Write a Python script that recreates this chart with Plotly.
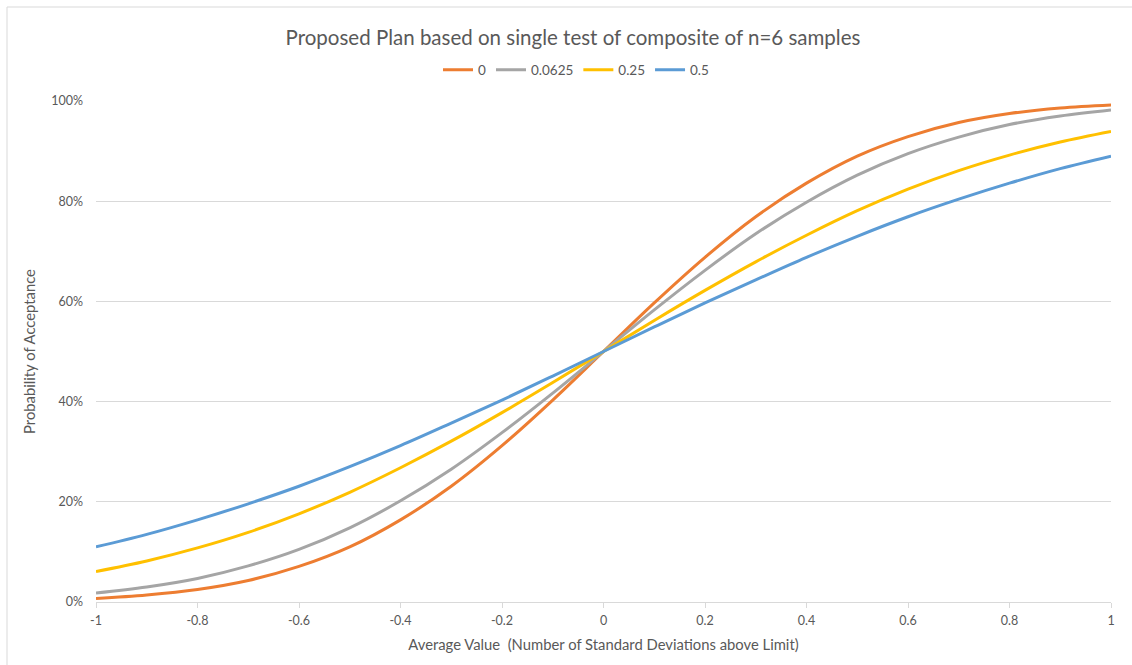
import plotly.graph_objects as go

x_vals = [-1.0, -0.9, -0.8, -0.7, -0.6, -0.5, -0.4, -0.3, -0.2, -0.1, 0.0,
          0.1, 0.2, 0.3, 0.4, 0.5, 0.6, 0.7, 0.8, 0.9, 1.0]

series_names = ["0", "0.0625", "0.25", "0.5"]
p_0 = [0.007, 0.014, 0.025, 0.043, 0.071, 0.110, 0.164, 0.231, 0.312, 0.403, 0.500,
       0.597, 0.688, 0.769, 0.836, 0.890, 0.929, 0.957, 0.975, 0.986, 0.992]
p_00625 = [0.018, 0.030, 0.047, 0.072, 0.105, 0.148, 0.202, 0.265, 0.338, 0.417, 0.500,
           0.583, 0.662, 0.735, 0.798, 0.852, 0.895, 0.928, 0.953, 0.970, 0.982]
p_025 = [0.061, 0.082, 0.108, 0.139, 0.176, 0.219, 0.268, 0.321, 0.378, 0.438, 0.500,
         0.562, 0.622, 0.679, 0.732, 0.781, 0.824, 0.861, 0.892, 0.918, 0.939]
p_05 = [0.110, 0.135, 0.164, 0.196, 0.231, 0.270, 0.312, 0.357, 0.403, 0.451, 0.500,
        0.549, 0.597, 0.643, 0.688, 0.730, 0.769, 0.804, 0.836, 0.865, 0.890]

colors = ["#ED7D31", "#A5A5A5", "#FFC000", "#5B9BD5"]
all_series = [p_0, p_00625, p_025, p_05]

x_ticks = [-1, -0.8, -0.6, -0.4, -0.2, 0, 0.2, 0.4, 0.6, 0.8, 1]
x_tick_text = ["-1", "-0.8", "-0.6", "-0.4", "-0.2", "0", "0.2", "0.4", "0.6", "0.8", "1"]
y_ticks = [0, 0.2, 0.4, 0.6, 0.8, 1.0]
y_tick_text = ["0%", "20%", "40%", "60%", "80%", "100%"]

FONT = "Lato, Carlito, Calibri, sans-serif"
TXT = "#595959"

fig = go.Figure()
for name, vals, c in zip(series_names, all_series, colors):
    fig.add_trace(go.Scatter(x=x_vals, y=vals, mode="lines", name=name,
                             line=dict(color=c, width=3, shape="spline")))

W, H = 1132, 665
L, R, T, B = 96, 21, 101, 63
pw = W - L - R
ph = H - T - B

fig.update_layout(
    width=W, height=H,
    margin=dict(l=L, r=R, t=T, b=B),
    paper_bgcolor="white", plot_bgcolor="white",
    font=dict(family=FONT, color=TXT, size=12),
    title=dict(text="Proposed Plan based on single test of composite of n=6 samples",
               x=573 / W, xref="container", xanchor="center", y=1 - 38 / H, yanchor="middle",
               font=dict(size=20.5, color=TXT, family=FONT)),
    legend=dict(orientation="h", x=(W / 2 + 10 - L) / pw, xanchor="center",
                y=(H - B - 70) / ph, yanchor="middle",
                font=dict(size=13.5, color=TXT),
                bgcolor="rgba(0,0,0,0)"),
    showlegend=True,
    xaxis=dict(range=[-1, 1], tickvals=x_ticks, ticktext=x_tick_text,
               showgrid=False, zeroline=False, showline=True, linecolor="#D9D9D9",
               linewidth=1, ticks="outside", ticklen=5, tickcolor="#D9D9D9",
               ticklabelstandoff=2,
               tickfont=dict(size=12.5, color=TXT),
               title=dict(text="Average Value  (Number of Standard Deviations above Limit)",
                          font=dict(size=14.8, color=TXT), standoff=12)),
    yaxis=dict(range=[0, 1], tickvals=y_ticks, ticktext=y_tick_text,
               showgrid=True, gridcolor="#D9D9D9", gridwidth=1, zeroline=False,
               showline=False, ticks="", ticklabelstandoff=12,
               tickfont=dict(size=12.5, color=TXT),
               title=dict(text="Probability of Acceptance",
                          font=dict(size=14.8, color=TXT), standoff=12)),
)

fig.add_shape(type="rect", xref="paper", yref="paper",
              x0=(7 - L) / pw, x1=1.2, y0=-0.3, y1=(H - B - 7) / ph,
              line=dict(color="#D9D9D9", width=1), fillcolor="rgba(0,0,0,0)",
              layer="below")

fig.write_html("out.html", config={"displayModeBar": False},
               post_script="document.body.style.margin='0';document.body.style.padding='0';")
